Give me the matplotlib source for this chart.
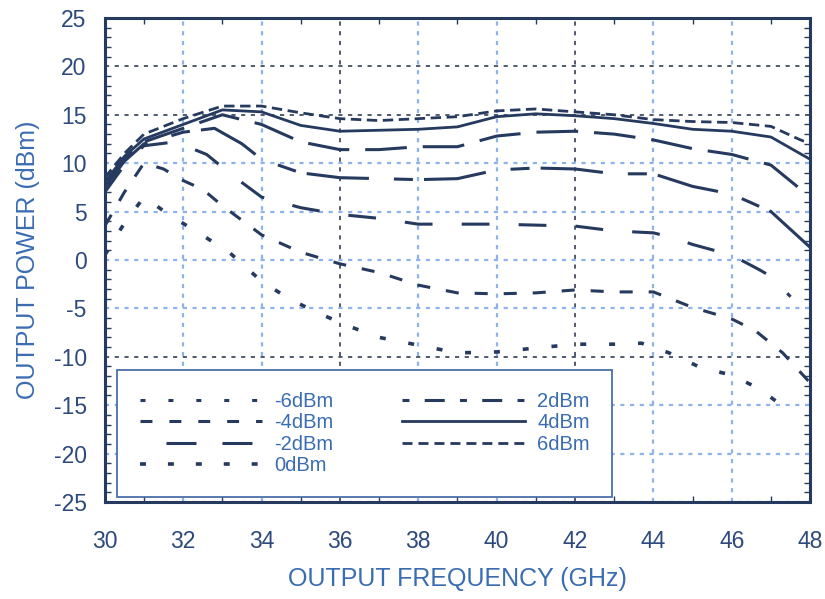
import numpy as np
import matplotlib
matplotlib.use('Agg')
from matplotlib import pyplot as plt
from matplotlib.lines import Line2D
from matplotlib.ticker import MultipleLocator

plt.rcParams['font.family'] = ['Liberation Sans', 'DejaVu Sans']
plt.rcParams['axes.unicode_minus'] = False
plt.rcParams['lines.scale_dashes'] = False

# output power (dBm) vs output frequency (GHz), one curve per input power
f_m6 = [30, 30.5, 31, 31.7, 32.4, 33.2, 34, 34.7, 35.4, 36.2, 37, 38, 39, 40, 41, 42, 43, 43.7, 44.4, 45.2, 46, 46.7, 47.4]
p_m6 = [0.5, 3.8, 6.5, 4.5, 2.8, 0.7, -2.2, -4.0, -5.4, -6.8, -8.0, -8.8, -9.6, -9.5, -9.1, -8.7, -8.7, -8.6, -9.6, -11.1, -11.9, -13.3, -15.4]

f_m4 = [30, 30.5, 31, 31.5, 32, 32.5, 33, 34, 35, 36, 37, 38, 39, 40, 41, 42, 43, 44, 45, 46, 46.6, 47.3, 48]
p_m4 = [3.5, 7.0, 10.0, 9.4, 8.2, 7.3, 5.6, 2.6, 0.8, -0.4, -1.3, -2.6, -3.4, -3.5, -3.4, -3.1, -3.3, -3.3, -4.9, -6.1, -7.3, -9.6, -12.7]

f_m2 = [30, 30.5, 31, 31.8, 32.6, 33.3, 34, 35, 36, 37, 38, 39, 40, 41, 42, 43, 44, 44.5, 45, 46, 46.7, 47, 47.5]
p_m2 = [7.0, 9.8, 11.8, 12.2, 10.9, 8.6, 6.5, 5.4, 4.7, 4.3, 3.7, 3.7, 3.7, 3.6, 3.5, 3.0, 2.8, 2.3, 1.6, 0.5, -1.0, -1.7, -3.8]

f_0 = [30, 30.5, 31, 32, 32.8, 33.5, 34, 35, 36, 37, 38, 39, 40, 41, 42, 43, 44, 45, 46, 47, 48]
p_0 = [7.5, 10.2, 12.0, 13.2, 13.6, 12.0, 10.4, 9.0, 8.5, 8.4, 8.3, 8.4, 9.3, 9.5, 9.4, 8.9, 8.9, 7.6, 6.8, 5.0, 1.3]

f_2 = [30, 30.5, 31, 32, 33, 34, 35, 36, 37, 38, 39, 40, 41, 42, 43, 44, 45, 46, 47, 48]
p_2 = [8.0, 10.5, 12.2, 13.6, 15.0, 14.0, 12.2, 11.4, 11.4, 11.7, 11.7, 12.8, 13.2, 13.3, 13.0, 12.4, 11.5, 10.9, 9.8, 6.5]

f_4 = [30, 30.5, 31, 32, 33, 34, 35, 36, 37, 38, 39, 40, 41, 42, 43, 44, 45, 46, 47, 48]
p_4 = [8.0, 10.7, 12.5, 14.0, 15.5, 15.3, 13.9, 13.3, 13.4, 13.5, 13.75, 14.8, 15.1, 14.9, 14.6, 14.1, 13.5, 13.3, 12.7, 10.4]

f_6 = [30, 30.5, 31, 32, 33, 34, 35, 36, 37, 38, 39, 40, 41, 42, 43, 44, 45, 46, 47, 47.7, 48]
p_6 = [8.5, 11.0, 13.0, 14.6, 15.9, 15.9, 15.2, 14.6, 14.4, 14.6, 14.8, 15.4, 15.6, 15.3, 15.0, 14.5, 14.3, 14.2, 13.8, 12.5, 12.0]

labels = ['-6dBm', '-4dBm', '-2dBm', '0dBm', '2dBm', '4dBm', '6dBm']
freqs = [f_m6, f_m4, f_m2, f_0, f_2, f_4, f_6]
powers = [p_m6, p_m4, p_m2, p_0, p_2, p_4, p_6]

navy = '#253a5e'
blue_txt = '#3a6cb2'
tick_txt = '#2d4a7c'
light = '#8db3ea'
dark = '#1f2d47'

# dash patterns seen on the curves
curve_styles = [(0, (4.3, 16.5)), (0, (9.4, 11.5)), (0, (20, 21)),
                (0, (45, 18, 13.7, 8)), (0, (30, 11.5)), '-', (0, (7.5, 4))]
curve_lw = [2.6, 2.2, 2.2, 2.2, 2.2, 2.0, 2.0]
# dash patterns in the legend box
leg_styles = [(0, (3.6, 16.5)), (0, (8.6, 12.2)), (21.6, (21.6, 18.7)),
              (0, (4.3, 15.8)), (0, (5, 11, 14.4, 11)), '-', (0, (7.2, 4.3))]
leg_lw = [2.2, 2.2, 2.2, 2.6, 2.2, 2.0, 2.0]

fig = plt.figure(figsize=(8.25, 5.99), dpi=100)
ax = fig.add_axes([0.127, 0.162, 0.855, 0.808])

for f, p, ls, lw in zip(freqs, powers, curve_styles, curve_lw):
    ax.plot(f, p, color=navy, linestyle=ls, linewidth=lw, solid_capstyle='butt', dash_capstyle='butt')

ax.set_xlim(30, 48)
ax.set_ylim(-25, 25)
ax.xaxis.set_major_locator(MultipleLocator(2))
ax.xaxis.set_minor_locator(MultipleLocator(1))
ax.yaxis.set_major_locator(MultipleLocator(5))
ax.yaxis.set_minor_locator(MultipleLocator(1))

ax.grid(which='major', color=light, linestyle=(0, (3, 4)), linewidth=1.6)
for val, gl in zip(ax.get_xticks(), ax.get_xgridlines()):
    if val in (36, 42):
        gl.set_color(dark)
        gl.set_linewidth(1.1)
for val, gl in zip(ax.get_yticks(), ax.get_ygridlines()):
    if val in (20, 15, -10):
        gl.set_color(dark)
        gl.set_linewidth(1.1)
ax.set_axisbelow(True)

ax.tick_params(which='both', direction='in', top=True, right=True, color=navy)
ax.tick_params(which='major', length=0)
ax.tick_params(which='minor', length=4, width=1)
ax.tick_params(axis='x', which='major', pad=20, labelsize=16.5, labelcolor=tick_txt)
ax.tick_params(axis='y', which='major', pad=13, labelsize=16.5, labelcolor=tick_txt)

for s in ax.spines.values():
    s.set_color(navy)
    s.set_linewidth(2.2)

ax.set_xlabel('OUTPUT FREQUENCY (GHz)', fontsize=18, color=blue_txt, labelpad=10)
ax.set_ylabel('OUTPUT POWER (dBm)', fontsize=18, color=blue_txt, labelpad=10)

handles = [Line2D([], [], color=navy, linestyle=ls, linewidth=lw, dash_capstyle='butt')
           for ls, lw in zip(leg_styles, leg_lw)]
leg = ax.legend(handles, labels, ncol=2, loc='lower left', bbox_to_anchor=(0.018, 0.010),
                borderaxespad=0, fontsize=14.5, handlelength=6.1, handletextpad=0.6,
                columnspacing=3.4, labelspacing=0.12, borderpad=1.1, fancybox=False,
                framealpha=1, edgecolor='#4a6fa8', labelcolor=blue_txt)
leg.get_frame().set_linewidth(1.3)

fig.savefig('out.png', dpi=100)
